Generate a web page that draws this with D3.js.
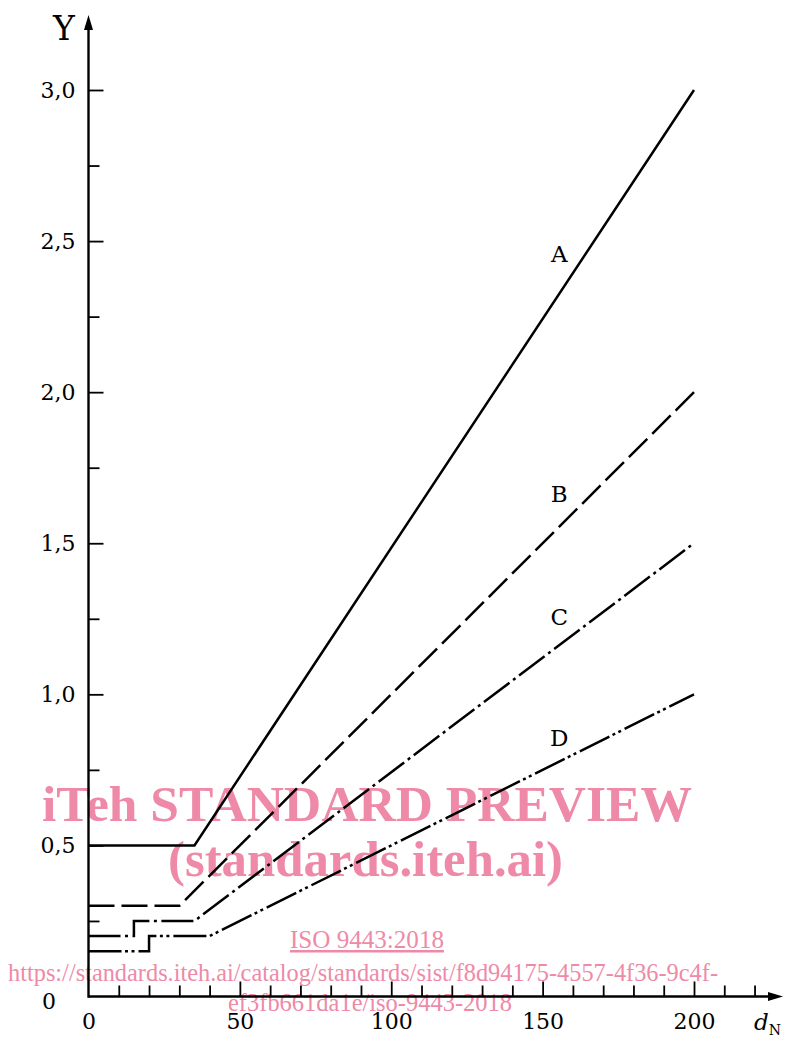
<!DOCTYPE html>
<html>
<head>
<meta charset="utf-8">
<script src="https://cdn.jsdelivr.net/npm/d3@7"></script>
<style>
  body { margin: 0; background: #fff; }
  svg { display: block; }
  .tick text { font-family: "DejaVu Serif", serif; font-size: 22px; fill: #000; }
  .curve { fill: none; stroke: #000; stroke-width: 2.5; }
  .wm { font-family: "Liberation Serif", "Times New Roman", serif; fill: #ee8aa8; }
</style>
</head>
<body>
<div id="chart"></div>
<script>
// curves (x = d_N, y = Y)
const curveNames = ["A", "B", "C", "D"];
const seriesA = [[0, 0.5], [35, 0.5], [200, 3.0]];
const seriesB = [[0, 0.3], [30, 0.3], [200, 2.0]];
const seriesC = [[0, 0.2], [15, 0.2], [15, 0.25], [35, 0.25], [200, 1.5]];
const seriesD = [[0, 0.15], [20, 0.15], [20, 0.2], [40, 0.2], [200, 1.0]];
// where the curve letters sit (data units)
const labelX = [155.5, 155.5, 155.5, 155.5];
const labelY = [2.43, 1.635, 1.23, 0.83];

const xTicks = d3.range(10, 221, 10);
const xTickLabels = [0, 50, 100, 150, 200];
const yTicks = d3.range(0.25, 3.01, 0.25);
const yTickLabels = ["0,5", "1,0", "1,5", "2,0", "2,5", "3,0"];
const yTickLabelValues = [0.5, 1.0, 1.5, 2.0, 2.5, 3.0];

const W = 787, H = 1037;
const svg = d3.select("#chart").append("svg").attr("width", W).attr("height", H);

const x = d3.scaleLinear().domain([0, 200]).range([88.5, 694]);
const y = d3.scaleLinear().domain([0, 3]).range([996.5, 90]);

// watermark (underneath)
const wm = svg.append("g");
wm.append("text").attr("class", "wm").attr("x", 42).attr("y", 821)
  .attr("font-size", 50).attr("font-weight", "bold")
  .attr("textLength", 650).attr("lengthAdjust", "spacingAndGlyphs")
  .text("iTeh STANDARD PREVIEW");
wm.append("text").attr("class", "wm").attr("x", 168).attr("y", 876)
  .attr("font-size", 50).attr("font-weight", "bold")
  .attr("textLength", 395).attr("lengthAdjust", "spacingAndGlyphs")
  .text("(standards.iteh.ai)");
wm.append("text").attr("class", "wm").attr("x", 290).attr("y", 948)
  .attr("font-size", 25).attr("text-decoration", "underline")
  .attr("textLength", 154).attr("lengthAdjust", "spacingAndGlyphs")
  .text("ISO 9443:2018");
wm.append("text").attr("class", "wm").attr("x", 8).attr("y", 981)
  .attr("font-size", 25)
  .attr("textLength", 710).attr("lengthAdjust", "spacingAndGlyphs")
  .text("https://standards.iteh.ai/catalog/standards/sist/f8d94175-4557-4f36-9c4f-");
wm.append("text").attr("class", "wm").attr("x", 228).attr("y", 1011)
  .attr("font-size", 25)
  .attr("textLength", 284).attr("lengthAdjust", "spacingAndGlyphs")
  .text("ef3fb661da1e/iso-9443-2018");

// axis-x
const gx = svg.append("g").attr("transform", `translate(0, ${y(0)})`);
gx.call(d3.axisBottom(x).tickValues(xTicks).tickSize(0).tickFormat(""));
gx.select(".domain").remove();
gx.selectAll(".tick line")
  .attr("y2", d => (d % 50 === 0 ? -15 : -11))
  .attr("stroke", "#000").attr("stroke-width", 1.8);
const gxl = svg.append("g").attr("transform", `translate(0, ${y(0)})`);
gxl.call(d3.axisBottom(x).tickValues(xTickLabels).tickSize(0).tickPadding(17)
  .tickFormat(d => d3.format("d")(d)));
gxl.select(".domain").remove();

// axis-y
const gy = svg.append("g").attr("transform", `translate(${x(0)}, 0)`);
gy.call(d3.axisRight(y).tickValues(yTicks).tickSize(0).tickFormat(""));
gy.select(".domain").remove();
gy.selectAll(".tick line")
  .attr("x2", d => (Math.abs(d * 2 - Math.round(d * 2)) < 1e-6 ? 15 : 11))
  .attr("stroke", "#000").attr("stroke-width", 1.8);
const gyl = svg.append("g").attr("transform", `translate(${x(0)}, 0)`);
gyl.call(d3.axisLeft(y).tickValues(yTickLabelValues).tickSize(0).tickPadding(13)
  .tickFormat((d, i) => yTickLabels[i]));
gyl.select(".domain").remove();

// origin label on the y side
svg.append("text").attr("x", 42).attr("y", 1009)
  .attr("font-family", "DejaVu Serif").attr("font-size", 22).text("0");

// axis lines with arrows
const xEnd = 783, yEnd = 15;
svg.append("line").attr("x1", x(0)).attr("y1", y(0)).attr("x2", xEnd - 10).attr("y2", y(0))
  .attr("stroke", "#000").attr("stroke-width", 2.4);
svg.append("path")
  .attr("d", `M${xEnd},${y(0)} L${xEnd - 15},${y(0) - 4.5} L${xEnd - 15},${y(0) + 4.5} Z`)
  .attr("fill", "#000");
svg.append("line").attr("x1", x(0)).attr("y1", y(0) + 1.2).attr("x2", x(0)).attr("y2", yEnd + 10)
  .attr("stroke", "#000").attr("stroke-width", 2.4);
svg.append("path")
  .attr("d", `M${x(0)},${yEnd} L${x(0) - 4.5},${yEnd + 15} L${x(0) + 4.5},${yEnd + 15} Z`)
  .attr("fill", "#000");

// axis titles
svg.append("text").attr("x", 64).attr("y", 40).attr("text-anchor", "middle")
  .attr("font-family", "DejaVu Serif").attr("font-size", 33).text("Y");
const dn = svg.append("text").attr("x", 754).attr("y", 1030)
  .attr("font-family", "DejaVu Serif").attr("font-size", 23);
dn.append("tspan").attr("font-style", "italic").text("d");
dn.append("tspan").attr("font-size", 14).attr("dy", 5).text("N");

// curves
const dashes = ["none", "26 7", "32 4.5 3 4.5", "33 3.5 3 3.5 3 4"];
const allSeries = [seriesA, seriesB, seriesC, seriesD];
const line = d3.line().x(d => x(d[0])).y(d => y(d[1]));

svg.append("g").selectAll("path")
  .data(allSeries)
  .enter()
  .append("path")
  .attr("class", "curve")
  .attr("d", d => line(d))
  .attr("stroke-dasharray", (d, i) => dashes[i])
  .attr("stroke-linejoin", "miter");

// curve letters
svg.append("g").selectAll("text")
  .data(curveNames)
  .enter()
  .append("text")
  .attr("x", (d, i) => x(labelX[i]))
  .attr("y", (d, i) => y(labelY[i]))
  .attr("text-anchor", "middle")
  .attr("font-family", "DejaVu Serif")
  .attr("font-size", 23)
  .text(d => d);
</script>
</body>
</html>
